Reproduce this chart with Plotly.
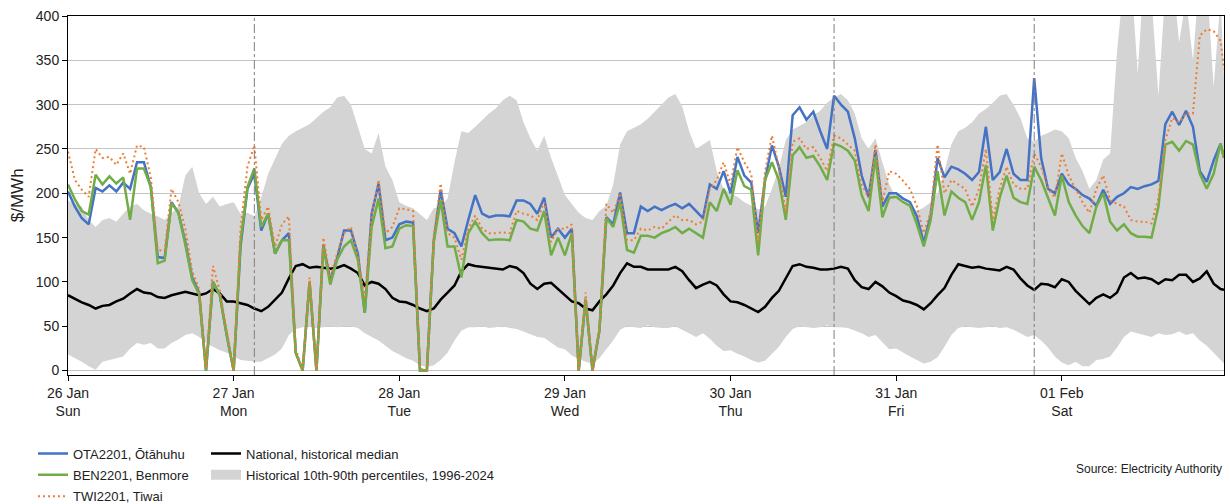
import pandas as pd
import plotly.graph_objects as go

# Hourly prices, 26 Jan 00:00 to 1 Feb 23:00, plus the final 23:30 period
times = list(pd.date_range("2025-01-26 00:00", "2025-02-01 23:00", freq="h")) + [pd.Timestamp("2025-02-01 23:30")]

ota_2201 = [
    202, 185, 172, 165, 206, 202, 209, 202, 212, 205, 235, 235, 207, 128, 127, 190, 178, 145, 105, 88, 0, 100, 85, 40,
    0, 140, 205, 222, 158, 177, 132, 147, 155, 20, 0, 100, 0, 142, 102, 127, 158, 158, 132, 65, 177, 211, 147, 150,
    165, 168, 167, 0, 0, 147, 204, 160, 155, 140, 170, 198, 177, 173, 175, 175, 174, 192, 192, 188, 177, 195, 150, 160,
    150, 160, 0, 80, 0, 45, 173, 165, 201, 155, 155, 185, 180, 185, 181, 185, 188, 183, 188, 180, 172, 210, 205, 225,
    200, 241, 220, 212, 155, 215, 254, 230, 196, 288, 297, 283, 292, 270, 250, 310, 300, 292, 262, 220, 196, 249, 185, 200,
    200, 194, 190, 174, 144, 175, 240, 218, 230, 227, 222, 215, 224, 275, 215, 224, 250, 222, 215, 215, 330, 240, 205, 200,
    222, 210, 205, 198, 194, 186, 204, 188, 196, 200, 207, 205, 208, 210, 214, 278, 292, 277, 293, 275, 225, 213, 237, 256,
    240,
]

ben_2201 = [
    210, 193, 180, 176, 221, 210, 219, 211, 218, 170, 228, 228, 207, 121, 124, 189, 178, 142, 102, 86, 0, 100, 85, 40,
    0, 145, 207, 228, 162, 177, 132, 147, 147, 20, 0, 100, 0, 140, 97, 125, 140, 147, 125, 65, 162, 194, 138, 140,
    160, 164, 163, 0, 0, 145, 192, 140, 140, 105, 155, 168, 155, 147, 148, 148, 147, 170, 168, 160, 158, 180, 130, 150,
    130, 155, 0, 80, 0, 45, 172, 162, 190, 136, 133, 152, 152, 150, 155, 158, 162, 155, 160, 155, 150, 190, 180, 205,
    187, 226, 208, 204, 130, 215, 235, 215, 170, 243, 252, 240, 242, 230, 215, 256, 253, 248, 237, 198, 180, 241, 173, 195,
    196, 190, 186, 165, 140, 170, 225, 175, 202, 195, 190, 170, 190, 232, 158, 195, 220, 195, 190, 188, 230, 215, 195, 175,
    220, 190, 175, 163, 155, 185, 200, 168, 158, 165, 155, 151, 151, 150, 185, 255, 258, 248, 259, 255, 222, 205, 222, 256,
    240,
]

twi_2201 = [
    247, 215, 204, 196, 250, 240, 241, 232, 245, 222, 254, 252, 218, 136, 135, 205, 190, 160, 112, 92, 2, 118, 90, 45,
    0, 160, 230, 254, 170, 185, 140, 165, 174, 25, 0, 105, 0, 150, 105, 132, 155, 162, 128, 80, 175, 215, 155, 162,
    183, 182, 180, 2, 0, 152, 211, 155, 150, 125, 160, 175, 160, 155, 155, 156, 155, 180, 177, 175, 170, 190, 145, 160,
    160, 165, 0, 88, 0, 48, 188, 178, 200, 147, 147, 160, 158, 162, 160, 168, 175, 170, 170, 165, 168, 205, 215, 235,
    210, 252, 235, 222, 145, 225, 265, 230, 178, 258, 262, 250, 252, 240, 225, 265, 262, 255, 248, 210, 195, 255, 190, 225,
    222, 214, 205, 185, 155, 180, 255, 200, 215, 210, 205, 185, 205, 250, 170, 205, 230, 210, 205, 205, 245, 230, 205, 195,
    245, 220, 205, 190, 178, 205, 220, 192, 188, 185, 170, 168, 168, 166, 195, 260, 285, 280, 290, 290, 378, 385, 383, 372,
    340,
]

national_median = [
    85, 81, 77, 74, 70, 73, 74, 78, 81, 87, 92, 88, 87, 83, 82, 85, 87, 89, 87, 85, 87, 92, 87, 78,
    78, 76, 74, 70, 67, 72, 80, 88, 104, 118, 120, 116, 117, 116, 115, 116, 119, 115, 110, 96, 100, 98, 92, 82,
    78, 77, 74, 70, 67, 70, 80, 88, 96, 112, 120, 118, 117, 116, 115, 114, 118, 116, 110, 98, 92, 98, 99, 92,
    84, 78, 76, 70, 68, 78, 86, 96, 110, 121, 117, 117, 114, 114, 114, 114, 117, 112, 102, 93, 97, 100, 96, 86,
    78, 77, 74, 70, 66, 72, 82, 90, 104, 118, 120, 117, 116, 114, 114, 115, 117, 115, 102, 94, 92, 100, 95, 88,
    84, 79, 77, 74, 69, 76, 85, 93, 108, 120, 118, 116, 117, 115, 114, 113, 117, 114, 104, 96, 91, 98, 97, 94,
    103, 100, 90, 82, 75, 82, 86, 82, 88, 105, 110, 104, 105, 103, 98, 103, 102, 108, 108, 100, 104, 112, 98, 92,
    91,
]

hist_p10 = [
    18, 14, 10, 5, 1, 10, 12, 14, 16, 25, 31, 29, 31, 25, 25, 31, 35, 40, 42, 38, 31, 27, 23, 20,
    16, 12, 11, 10, 10, 14, 18, 25, 40, 47, 49, 50, 48, 49, 50, 49, 50, 50, 48, 42, 38, 34, 28, 22,
    18, 14, 11, 6, 4, 6, 12, 20, 34, 45, 49, 49, 50, 48, 49, 50, 48, 47, 44, 41, 38, 37, 32, 26,
    24, 17, 13, 10, 8, 14, 24, 34, 46, 50, 49, 48, 51, 49, 48, 48, 50, 46, 42, 38, 42, 36, 28, 22,
    23, 19, 16, 12, 9, 11, 19, 27, 38, 47, 50, 49, 48, 49, 51, 49, 49, 48, 45, 42, 38, 40, 32, 24,
    25, 20, 16, 12, 8, 10, 15, 27, 40, 48, 50, 49, 48, 49, 50, 48, 49, 46, 42, 38, 40, 34, 26, 16,
    9, 6, 10, 5, 5, 12, 13, 16, 26, 38, 44, 42, 40, 38, 42, 40, 41, 44, 40, 42, 34, 28, 20, 12,
    8,
]

hist_p90 = [
    192, 188, 185, 170, 162, 170, 172, 168, 177, 185, 188, 181, 177, 174, 170, 177, 185, 220, 230, 200, 188, 196, 185, 188,
    190, 177, 178, 174, 195, 222, 240, 256, 265, 270, 274, 278, 285, 292, 297, 308, 310, 300, 275, 250, 245, 268, 230, 215,
    190, 186, 183, 177, 170, 183, 185, 194, 235, 270, 268, 275, 283, 290, 296, 305, 310, 305, 280, 262, 248, 265, 240, 220,
    198, 188, 178, 172, 170, 180, 186, 210, 255, 270, 274, 278, 284, 292, 300, 308, 312, 298, 270, 250, 255, 260, 225, 205,
    200, 196, 190, 186, 182, 185, 205, 228, 260, 272, 276, 280, 288, 293, 302, 308, 312, 305, 290, 262, 250, 262, 235, 210,
    195, 188, 186, 180, 184, 190, 200, 225, 255, 270, 274, 280, 290, 295, 302, 310, 312, 300, 285, 262, 258, 265, 268, 272,
    270, 262, 240, 225, 205, 215, 238, 245, 360, 440, 450, 335, 460, 420, 310, 430, 450, 370, 420, 350, 450, 440, 320, 420,
    330,
]

for series in (ota_2201, ben_2201, twi_2201, national_median, hist_p10, hist_p90):
    assert len(series) == len(times)

day_ticks = ["2025-01-26", "2025-01-27", "2025-01-28", "2025-01-29", "2025-01-30", "2025-01-31", "2025-02-01"]
day_labels = ["26 Jan<br>Sun", "27 Jan<br>Mon", "28 Jan<br>Tue", "29 Jan<br>Wed", "30 Jan<br>Thu", "31 Jan<br>Fri", "01 Feb<br>Sat"]
y_ticks = [0, 50, 100, 150, 200, 250, 300, 350, 400]

event_times = ["2025-01-27 03:00", "2025-01-30 15:00", "2025-01-31 20:00"]

FONT = "Liberation Sans, Arial, Helvetica, sans-serif"
TEXT = "#222222"
BAND = "#d4d4d4"

fig = go.Figure()

# Historical 10th-90th percentile band
fig.add_trace(go.Scatter(x=times, y=hist_p10, mode="lines", line=dict(width=0, color=BAND),
                         showlegend=False, hoverinfo="skip"))
fig.add_trace(go.Scatter(x=times, y=hist_p90, mode="lines", line=dict(width=0, color=BAND),
                         fill="tonexty", fillcolor=BAND, showlegend=False, hoverinfo="skip"))

fig.add_trace(go.Scatter(x=times, y=national_median, mode="lines", name="National, historical median",
                         line=dict(color="#000000", width=2.5), legend="legend2", legendgroup="g4"))
fig.add_trace(go.Scatter(x=times, y=ota_2201, mode="lines", name="OTA2201, Ōtāhuhu",
                         line=dict(color="#4472C4", width=2.5), legend="legend", legendgroup="g1", legendrank=1))
fig.add_trace(go.Scatter(x=times, y=ben_2201, mode="lines", name="BEN2201, Benmore",
                         line=dict(color="#70AD47", width=2.5), legend="legend", legendgroup="g2", legendrank=2))
fig.add_trace(go.Scatter(x=times, y=twi_2201, mode="lines", name="TWI2201, Tiwai",
                         line=dict(color="#ED7D31", width=2, dash="2px,3px"), legend="legend",
                         legendgroup="g3", legendrank=3))
# Legend swatch for the percentile band
fig.add_trace(go.Scatter(x=[None], y=[None], mode="lines", name="Historical 10th-90th percentiles, 1996-2024",
                         line=dict(color=BAND, width=12), legend="legend2", legendgroup="g5", hoverinfo="skip"))

for t in event_times:
    fig.add_shape(type="line", x0=t, x1=t, xref="x", y0=0, y1=1, yref="paper",
                  line=dict(color="#7f7f7f", width=1, dash="dashdot"), layer="above")

# Y-axis title
fig.add_annotation(text="$/MWh", xref="paper", yref="paper", x=-0.0435, y=0.5, textangle=-90,
                   xanchor="center", yanchor="middle", showarrow=False,
                   font=dict(size=17, color=TEXT, family=FONT))

fig.add_annotation(text="Source: Electricity Authority", xref="paper", yref="paper", x=1, y=-0.262,
                   xanchor="right", yanchor="middle", showarrow=False, font=dict(size=12, color=TEXT, family=FONT))

legend_common = dict(orientation="v", xref="container", yref="container", yanchor="top", xanchor="left",
                     font=dict(size=13, color=TEXT, family=FONT), bgcolor="rgba(0,0,0,0)",
                     tracegroupgap=1.5, itemwidth=30)

fig.update_layout(
    width=1230, height=504,
    margin=dict(l=68, r=6, t=16, b=129, autoexpand=False),
    plot_bgcolor="white", paper_bgcolor="white",
    font=dict(family=FONT, color=TEXT, size=14),
    showlegend=True,
    legend=dict(x=33 / 1230, y=1 - 438.5 / 504, **legend_common),
    legend2=dict(x=206 / 1230, y=1 - 438.5 / 504, **legend_common),
    xaxis=dict(type="date", range=["2025-01-26 00:00", "2025-02-01 23:30"],
               tickvals=day_ticks, ticktext=day_labels, ticks="outside", ticklen=5, tickcolor="#000",
               showline=True, linecolor="#000", linewidth=1, mirror=True, showgrid=False, zeroline=False,
               tickfont=dict(size=14, color=TEXT, family=FONT)),
    yaxis=dict(range=[-5, 400], tickvals=y_ticks, ticks="outside", ticklen=5, tickcolor="#000",
               showline=True, linecolor="#000", linewidth=1, mirror=True,
               showgrid=True, gridcolor="#c4c4c4", gridwidth=1, zeroline=False,
               tickfont=dict(size=14, color=TEXT, family=FONT)),
)

fig.write_html("out.html")
